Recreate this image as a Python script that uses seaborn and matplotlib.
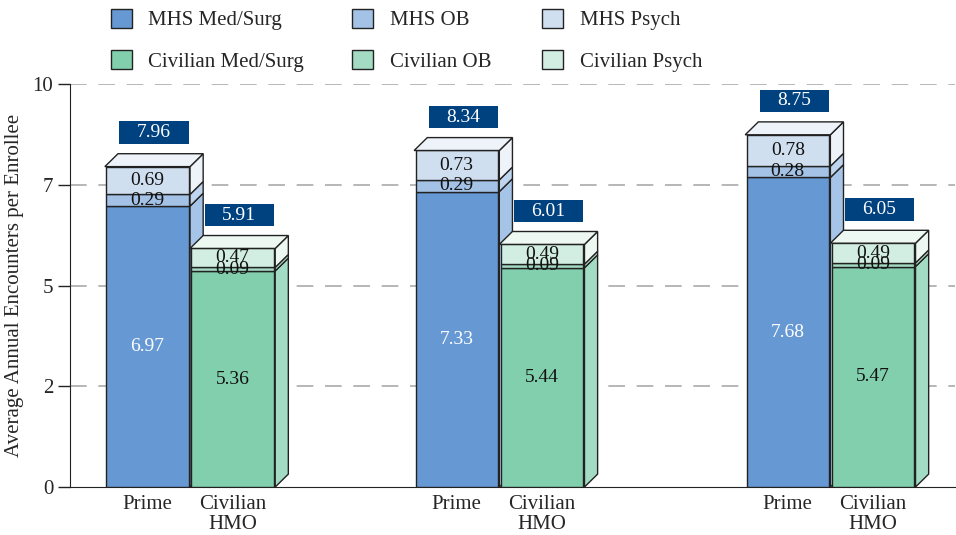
import seaborn as sns
import pandas as pd
import matplotlib.pyplot as plt
from matplotlib.patches import Polygon, Patch, Rectangle

# Data
groups = ['FY1', 'FY2', 'FY3']
mhs_medsurg = [6.97, 7.33, 7.68]
mhs_ob = [0.29, 0.29, 0.28]
mhs_psych = [0.69, 0.73, 0.78]
mhs_total = [7.96, 8.34, 8.75]
civ_medsurg = [5.36, 5.44, 5.47]
civ_ob = [0.09, 0.09, 0.09]
civ_psych = [0.47, 0.49, 0.49]
civ_total = [5.91, 6.01, 6.05]
bar_labels = ['Prime', 'Civilian\nHMO']
legend_labels = ['MHS Med/Surg', 'MHS OB', 'MHS Psych',
                 'Civilian Med/Surg', 'Civilian OB', 'Civilian Psych']

# Layout
group_pos = [0.0, 0.966, 2.0]
w = 0.266
dx, dy = 0.041, 0.32
mhs_front = ['#6699D3', '#A3C2E6', '#D0DFF0']
mhs_side = ['#A6C4E7', '#BFD4EE', '#EEF3FA']
civ_front = ['#82CFAE', '#A3DBC3', '#D2EEE2']
civ_side = ['#A3DCC4', '#BCE5D3', '#EEF8F3']
edge = '#222222'
box_color = '#00417F'
fs = 15
fs_val = 14

sns.set_style('white')
plt.rcParams['font.family'] = ['Liberation Serif', 'DejaVu Serif']

fig = plt.figure(figsize=(9.56, 5.35), dpi=100)
ax = fig.add_axes([0.0732, 0.0897, 0.926, 0.7533])


def draw_stack(centers, layers, fronts, sides, totals, inner_color):
    bottoms = [0.0] * len(centers)
    for k, vals in enumerate(layers):
        df = pd.DataFrame({'x': centers, 'y': vals})
        sns.barplot(data=df, x='x', y='y', native_scale=True, width=w,
                    bottom=bottoms, color=fronts[k], saturation=1,
                    edgecolor=edge, linewidth=1, errorbar=None, ax=ax,
                    zorder=3)
        for c, b, v in zip(centers, bottoms, vals):
            xr = c + w / 2
            xl = c - w / 2
            t = b + v
            ax.add_patch(Polygon([(xr, b), (xr + dx, b + dy), (xr + dx, t + dy), (xr, t)],
                                 closed=True, facecolor=sides[k], edgecolor=edge,
                                 linewidth=1, zorder=3))
            if k == len(layers) - 1:
                ax.add_patch(Polygon([(xl, t), (xl + dx, t + dy), (xr + dx, t + dy), (xr, t)],
                                     closed=True, facecolor=sides[k], edgecolor=edge,
                                     linewidth=1, zorder=3))
            col = inner_color if k == 0 else '#111111'
            ax.text(c, b + v / 2, f'{v:.2f}', ha='center',
                    va='center', fontsize=fs_val, color=col, zorder=5)
        bottoms = [b + v for b, v in zip(bottoms, vals)]
    bw, bh = 0.216, 0.55
    for c, tot in zip(centers, totals):
        cx = c + dx / 2
        ax.add_patch(Rectangle((cx - bw / 2, tot + 0.56), bw, bh, facecolor=box_color,
                               edgecolor='none', zorder=6))
        ax.text(cx, tot + 0.56 + bh / 2, f'{tot:.2f}', ha='center', va='center',
                fontsize=fs_val, color='white', zorder=7)


prime_c = [g - w / 2 for g in group_pos]
civ_c = [g + w / 2 for g in group_pos]
draw_stack(prime_c, [mhs_medsurg, mhs_ob, mhs_psych], mhs_front, mhs_side, mhs_total, 'white')
draw_stack(civ_c, [civ_medsurg, civ_ob, civ_psych], civ_front, civ_side, civ_total, '#111111')

ax.set_xlim(-0.375, 2.39)
ax.set_ylim(0, 10)
ax.set_yticks([0, 2.5, 5, 7.5, 10])
ax.set_yticklabels(['0', '2', '5', '7', '10'], fontsize=fs)
ax.set_xticks(prime_c + civ_c)
ax.set_xticklabels([bar_labels[0]] * 3 + [bar_labels[1]] * 3, fontsize=fs,
                   linespacing=1.05)
ax.tick_params(axis='x', length=0, pad=6)
ax.tick_params(axis='y', length=9, width=1, color='#222222', direction='out', left=True, pad=3)
ax.set_xlabel('')
ax.set_ylabel('Average Annual Encounters per Enrollee', fontsize=fs, labelpad=6)
for yv in [2.5, 5, 7.5, 10]:
    ax.axhline(yv, color='#AAAAAA', linestyle=(0, (10, 7)), linewidth=1.2, zorder=1)
sns.despine(ax=ax, top=True, right=True)
ax.spines['left'].set_color('#222222')
ax.spines['bottom'].set_color('#222222')

# legend: three columns placed at fixed positions
col_x = [111, 352, 542]
for j in range(3):
    hs = [Patch(facecolor=mhs_front[j], edgecolor=edge, linewidth=1),
          Patch(facecolor=civ_front[j], edgecolor=edge, linewidth=1)]
    fig.legend(hs, [legend_labels[j], legend_labels[j + 3]], ncol=1,
               loc='upper left', bbox_to_anchor=(col_x[j] / 956, 1 - 9 / 535),
               frameon=False, fontsize=fs, handlelength=1.0, handleheight=1.0,
               handletextpad=0.8, labelspacing=0.95, borderpad=0, borderaxespad=0)

fig.savefig('out.png', dpi=100)
